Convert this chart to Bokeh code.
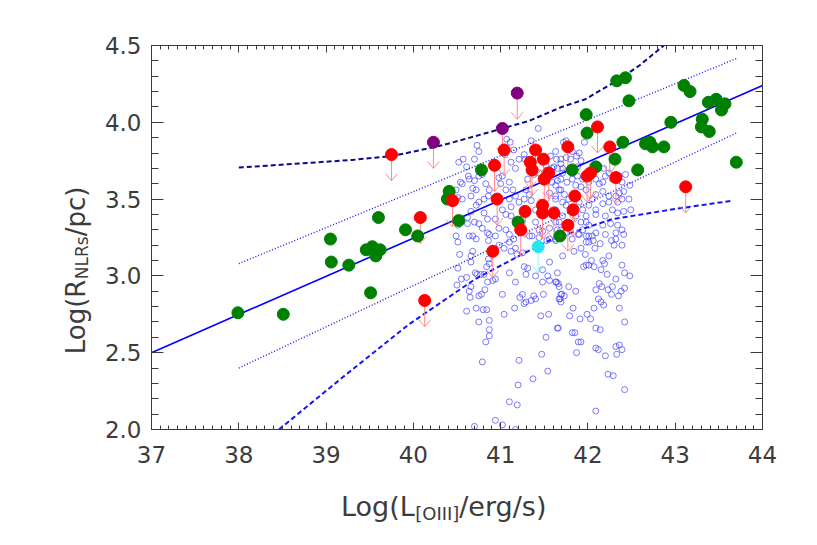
import math
from bokeh.plotting import figure
from bokeh.layouts import row, column
from bokeh.models import (Range1d, LinearAxis, SingleIntervalTicker,
                          PrintfTickFormatter)
from bokeh.core.properties import value
from bokeh.embed import file_html
from bokeh.resources import INLINE

# ---------------- data ----------------
# comparison sample (open blue circles)
blue_x = [
    40.51, 40.53, 40.68, 40.66, 40.66, 40.51, 40.71, 40.73, 40.77, 40.81,
    40.84, 40.87, 40.86, 40.94, 40.91, 40.85, 40.61, 40.55, 40.50, 40.66,
    40.64, 40.65, 40.75, 40.78, 40.82, 40.61, 40.72, 40.80, 40.84, 40.87,
    40.75, 41.02, 41.10, 41.17, 41.25, 41.22, 41.29, 40.98, 41.04, 41.10,
    41.17, 41.12, 41.19, 41.25, 41.27, 41.31, 41.29, 41.40, 41.48, 41.54,
    41.56, 41.63, 41.67, 41.69, 41.67, 41.49, 41.40, 41.38, 41.35, 40.86,
    40.87, 40.68, 41.15, 41.36, 41.44, 41.48, 41.56, 41.53, 41.63, 41.71,
    41.04, 41.16, 41.27, 41.46, 41.55, 41.66, 41.52, 41.47, 41.54, 41.37,
    41.21, 41.20, 41.10, 41.19, 40.94, 41.02, 40.70, 40.79, 40.87, 40.87,
    40.83, 41.17,
    41.65, 41.98, 42.05, 42.06, 42.14, 42.27, 42.32, 42.41, 42.39, 42.30,
    41.98, 42.01, 42.08, 41.92, 41.84, 41.97, 41.89, 42.17, 42.24, 42.19,
    42.04, 41.98, 41.95, 42.01, 42.07, 42.15, 42.39, 42.42, 42.48, 42.22,
    42.32, 41.65, 41.64, 41.66, 41.78, 41.86, 42.13, 42.16, 42.28, 42.23,
    42.27, 42.38, 42.42, 42.35, 41.70, 41.73, 41.68, 41.69, 42.12, 42.15,
    42.18, 42.09, 41.83, 42.07, 42.36, 41.79, 41.99, 42.03, 41.91, 42.42,
    42.09, 42.14, 41.65, 41.82, 41.85, 41.89, 41.92, 41.87, 42.09, 42.12,
    42.20, 42.32, 42.36, 42.39, 42.33, 42.23, 42.29, 42.42, 42.09,
    41.43, 41.35, 41.63, 41.28, 41.15, 41.07, 41.11, 41.05, 40.73, 40.75,
    40.70, 40.57, 40.52, 40.61, 40.63, 40.64, 40.70, 40.54, 40.56, 40.49,
    40.51, 40.56, 40.66, 40.68, 40.72, 40.75, 40.79, 40.83, 40.87, 40.86,
    40.81, 40.75, 40.72, 40.66, 40.62, 40.81, 40.85, 40.98, 41.02, 41.00,
    41.06, 41.10, 41.14, 41.17, 41.21, 41.27, 41.29, 41.33, 41.35, 41.40,
    41.10, 41.12, 41.02, 40.94, 41.06, 41.12, 41.17, 41.25, 41.06, 41.10,
    40.98, 40.94, 40.85, 40.79, 40.75, 40.70, 40.62, 40.51, 40.49, 40.64,
    40.72, 41.33, 41.40, 41.44, 41.56, 41.63, 41.69, 41.56, 41.48, 41.63,
    41.71, 41.63, 41.56, 41.69, 41.65, 41.59, 41.52, 41.44, 41.38, 41.31,
    41.71, 41.69, 41.57, 41.27, 41.21, 41.17, 41.12,
    41.72, 41.75, 41.64, 41.69, 41.75, 41.80, 41.87, 41.90, 41.96, 41.82,
    41.92, 41.88, 41.61, 41.65, 41.71, 41.59, 41.63, 41.69, 41.76, 41.82,
    41.88, 41.94, 41.98, 42.01, 42.09, 42.13, 42.17, 42.20, 42.18, 42.24,
    42.28, 42.36, 42.39, 42.43, 42.48, 42.41, 42.36, 42.32, 42.24, 42.17,
    42.09, 42.05, 41.98, 41.92, 41.86, 41.67, 41.73, 41.78, 41.63, 41.75,
    41.90, 41.94, 42.01, 42.09, 42.17, 42.24, 42.34, 42.39, 42.47, 42.49,
    42.41, 42.34, 42.28, 42.20, 42.09, 41.98, 41.92, 41.86, 41.71, 41.67,
    41.65, 41.75, 41.94, 42.01, 42.09, 42.17, 42.26, 42.34, 42.39, 42.32,
    42.20, 42.01, 41.98, 41.90, 41.82, 41.63,
]
blue_y = [
    3.22, 3.14, 3.16, 3.13, 3.09, 3.05, 3.02, 3.01, 3.01, 3.01,
    3.06, 3.08, 3.11, 2.98, 2.97, 2.96, 2.99, 2.98, 2.94, 2.93,
    2.90, 2.86, 2.87, 2.88, 2.91, 2.77, 2.79, 2.78, 2.78, 2.71,
    2.70, 2.88, 3.02, 2.96, 2.88, 2.86, 2.83, 3.20, 3.18, 3.22,
    3.18, 3.16, 3.14, 3.15, 3.06, 3.05, 3.01, 3.00, 2.96, 3.00,
    2.97, 2.96, 2.93, 2.88, 2.85, 2.88, 2.85, 2.87, 2.84, 3.23,
    3.27, 3.26, 3.24, 3.26, 3.25, 3.04, 3.09, 3.23, 3.23, 3.13,
    2.75, 2.79, 2.82, 2.74, 2.75, 2.66, 2.60, 2.49, 2.38, 2.33,
    2.45, 2.29, 2.18, 2.16, 2.06, 2.03, 2.02, 2.44, 2.65, 2.61,
    2.57, 2.00,
    3.26, 3.26, 3.26, 3.23, 3.21, 3.23, 3.24, 3.27, 3.20, 3.20,
    3.22, 3.22, 3.18, 3.18, 3.16, 3.14, 3.27, 3.10, 3.13, 3.08,
    3.10, 3.07, 3.06, 3.07, 3.06, 3.04, 3.07, 3.02, 3.00, 3.01,
    2.98, 3.02, 2.96, 2.95, 2.93, 2.90, 2.95, 2.93, 2.93, 2.91,
    2.88, 2.90, 2.92, 2.87, 2.88, 2.87, 2.85, 2.83, 2.85, 2.83,
    2.81, 2.91, 2.79, 2.79, 2.79, 2.74, 2.75, 2.72, 2.72, 2.70,
    2.66, 2.65, 2.66, 2.63, 2.63, 2.57, 2.57, 2.50, 2.53, 2.52,
    2.48, 2.54, 2.55, 2.52, 2.49, 2.36, 2.35, 2.26, 2.12,
    3.96, 3.88, 3.81, 3.76, 3.82, 3.89, 3.87, 3.79, 3.85, 3.81,
    3.76, 3.76, 3.74, 3.71, 3.65, 3.63, 3.62, 3.61, 3.60, 3.56,
    3.51, 3.50, 3.52, 3.57, 3.56, 3.65, 3.66, 3.60, 3.56, 3.52,
    3.50, 3.48, 3.46, 3.42, 3.38, 3.41, 3.37, 3.64, 3.65, 3.60,
    3.56, 3.61, 3.56, 3.52, 3.48, 3.50, 3.56, 3.53, 3.49, 3.43,
    3.50, 3.45, 3.43, 3.37, 3.40, 3.39, 3.35, 3.37, 3.30, 3.27,
    3.31, 3.26, 3.28, 3.31, 3.34, 3.35, 3.34, 3.33, 3.26, 3.26,
    3.24, 3.26, 3.35, 3.30, 3.31, 3.35, 3.30, 3.24, 3.29, 3.43,
    3.48, 3.52, 3.54, 3.56, 3.62, 3.70, 3.72, 3.67, 3.66, 3.63,
    3.67, 3.76, 3.78, 3.79, 3.76, 3.70, 3.74,
    3.87, 3.88, 3.76, 3.73, 3.77, 3.76, 3.78, 3.80, 3.87, 3.81,
    3.75, 3.71, 3.71, 3.70, 3.70, 3.61, 3.59, 3.63, 3.61, 3.63,
    3.65, 3.63, 3.65, 3.61, 3.63, 3.60, 3.61, 3.65, 3.70, 3.67,
    3.63, 3.65, 3.61, 3.66, 3.59, 3.55, 3.54, 3.52, 3.52, 3.55,
    3.53, 3.50, 3.56, 3.58, 3.59, 3.56, 3.53, 3.50, 3.50, 3.46,
    3.48, 3.43, 3.46, 3.43, 3.47, 3.48, 3.48, 3.50, 3.50, 3.43,
    3.42, 3.41, 3.43, 3.39, 3.40, 3.39, 3.35, 3.39, 3.39, 3.35,
    3.30, 3.28, 3.30, 3.33, 3.28, 3.33, 3.34, 3.33, 3.30, 3.28,
    3.27, 3.26, 3.35, 3.27, 3.24, 3.24,
]

# detections (filled green)
green_x = [37.99, 38.51, 39.05, 39.06, 39.26, 39.51, 39.46, 39.53, 39.62, 39.57,
           39.60, 39.91, 40.05, 40.41, 40.39, 40.52, 40.78, 41.20, 41.68, 41.82,
           42.09, 42.31, 42.40, 41.98, 41.99, 42.33, 42.43, 42.47, 42.57, 42.66,
           42.71, 42.74, 42.87, 42.95, 43.10, 43.17, 43.38, 43.47, 43.57, 43.53,
           43.31, 43.30, 43.39, 43.70]
green_y = [2.76, 2.75, 3.24, 3.09, 3.07, 2.89, 3.17, 3.19, 3.17, 3.13,
           3.38, 3.30, 3.26, 3.55, 3.50, 3.36, 3.69, 3.35, 3.26, 3.69,
           3.71, 3.76, 3.87, 4.05, 3.93, 4.27, 4.29, 4.14, 3.69, 3.86,
           3.87, 3.84, 3.84, 4.00, 4.24, 4.20, 4.13, 4.15, 4.12, 4.08,
           4.02, 3.97, 3.94, 3.74]

# upper limits (filled red, with arrows)
red_x = [39.75, 40.13, 40.08, 40.45, 40.93, 41.04, 40.96, 40.91, 41.40, 41.34,
         41.36, 41.49, 41.55, 41.50, 41.28, 41.48, 41.48, 41.61, 41.23, 41.77,
         42.11, 42.25, 42.03, 41.99, 42.32, 41.85, 41.83, 41.77, 43.12]
red_y = [3.79, 2.84, 3.38, 3.49, 3.72, 3.82, 3.50, 3.16, 3.82, 3.74,
         3.69, 3.76, 3.67, 3.63, 3.42, 3.46, 3.41, 3.41, 3.30, 3.84,
         3.97, 3.84, 3.67, 3.65, 3.64, 3.52, 3.43, 3.33, 3.58]

purple_x = [40.23, 41.02, 41.19]
purple_y = [3.87, 3.96, 4.19]

cyan_x = [41.43]
cyan_y = [3.19]

# relations
fit_x = [37.0, 44.0]
fit_y = [2.50, 4.24]
up_dot_x = [38.0, 43.7]
up_dot_y = [3.08, 4.415]
lo_dot_x = [38.0, 43.7]
lo_dot_y = [2.40, 3.93]
up_dash_x = [38.0, 39.30, 39.76, 40.33, 40.90, 41.33, 41.70, 41.97, 42.36, 42.59, 42.87]
up_dash_y = [3.705, 3.755, 3.78, 3.85, 3.94, 4.01, 4.10, 4.15, 4.28, 4.37, 4.50]
lo_dash_x = [38.46, 39.19, 39.95, 40.71, 41.21, 41.59, 42.28, 43.05, 43.66]
lo_dash_y = [2.00, 2.34, 2.685, 2.98, 3.13, 3.24, 3.37, 3.44, 3.49]

x_ticks_interval = 1
y_ticks_interval = 0.5

# axis titles: pieces (main text, subscript, rest)
x_title = ["Log(L", "[OIII]", "/erg/s)"]
y_title = ["Log(R", "NLRs", "/pc)"]

# ---------------- styles / layout ----------------
AX = "#3a3a3a"
TXT = "#3c3c3c"
FONT = "DejaVu Sans"
LEFT_STRIP_W = 100
BORDER_L, BORDER_R, BORDER_T, BORDER_B = 51, 38, 45, 55
MAIN_W, MAIN_H = 700, 484
XSTRIP_H = 44

x_rng = Range1d(37, 44)
y_rng = Range1d(2.0, 4.5)

# ---------------- main plot ----------------
p = figure(width=MAIN_W, height=MAIN_H,
           min_border_left=BORDER_L, min_border_right=BORDER_R,
           min_border_top=BORDER_T, min_border_bottom=BORDER_B,
           x_range=x_rng, y_range=y_rng,
           x_axis_location=None, y_axis_location=None,
           output_backend="svg", toolbar_location=None, align="start")
p.xgrid.visible = False
p.ygrid.visible = False
p.outline_line_color = AX


def make_axis(kind, show):
    if kind == "x":
        tk = SingleIntervalTicker(interval=x_ticks_interval, num_minor_ticks=10)
        ax = LinearAxis(ticker=tk, formatter=PrintfTickFormatter(format="%d"))
        ax.major_tick_in, ax.minor_tick_in = 7, 4
        ax.major_label_standoff = 16
    else:
        tk = SingleIntervalTicker(interval=y_ticks_interval, num_minor_ticks=5)
        ax = LinearAxis(ticker=tk, formatter=PrintfTickFormatter(format="%.1f"))
        ax.major_tick_in, ax.minor_tick_in = 12, 7
        ax.major_label_standoff = 10
    ax.major_tick_out = 0
    ax.minor_tick_out = 0
    ax.axis_line_color = AX
    ax.major_tick_line_color = AX
    ax.minor_tick_line_color = AX
    if show:
        ax.major_label_text_font = FONT
        ax.major_label_text_font_size = "23px"
        ax.major_label_text_color = TXT
    else:
        ax.major_label_text_color = None
        ax.major_label_standoff = 0
    return ax


p.add_layout(make_axis("x", True), "below")
p.add_layout(make_axis("x", False), "above")
p.add_layout(make_axis("y", True), "left")
p.add_layout(make_axis("y", False), "right")

# comparison sample
p.scatter(blue_x, blue_y, marker="circle", size=6, fill_color=None,
          line_color="#3d3dff", line_alpha=0.8, line_width=0.85)

# relations
p.line(up_dash_x, up_dash_y, line_color="#0a0a8c", line_width=2, line_dash="5 3")
p.line(lo_dash_x, lo_dash_y, line_color="#1414ff", line_width=2, line_dash="5 3")
p.line(up_dot_x, up_dot_y, line_color="#1f1fff", line_width=1.5, line_dash="1 2")
p.line(lo_dot_x, lo_dot_y, line_color="#1f1fff", line_width=1.5, line_dash="1 2")
p.line(fit_x, fit_y, line_color="#0000ff", line_width=1.6)

# upper-limit arrows
ARROW_LEN = 0.17
HEAD_W = 0.068
HEAD_H = 0.045


def draw_arrows(xs, ys, color):
    tip = [y - ARROW_LEN for y in ys]
    p.segment(x0=xs, y0=ys, x1=xs, y1=tip, line_color=color, line_width=1)
    p.segment(x0=[x - HEAD_W for x in xs], y0=[t + HEAD_H for t in tip],
              x1=xs, y1=tip, line_color=color, line_width=1)
    p.segment(x0=[x + HEAD_W for x in xs], y0=[t + HEAD_H for t in tip],
              x1=xs, y1=tip, line_color=color, line_width=1)


draw_arrows(red_x + purple_x, red_y + purple_y, "#ff8a8a")
draw_arrows(cyan_x, cyan_y, "#8ff0f5")

# filled points
MS = 12
p.scatter(green_x, green_y, marker="circle", size=MS, fill_color="#008000", line_color="#008000")
p.scatter(red_x, red_y, marker="circle", size=MS, fill_color="#ff0000", line_color="#ff0000")
p.scatter(purple_x, purple_y, marker="circle", size=MS, fill_color="#800080", line_color="#800080")
p.scatter(cyan_x, cyan_y, marker="circle", size=MS, fill_color="#22e6f2", line_color="#22e6f2")


# ---------------- axis-title strips (real text with subscripts) ----------------
def blank(fig):
    fig.xgrid.visible = False
    fig.ygrid.visible = False
    fig.outline_line_color = None
    return fig


# left strip: same vertical frame as the main plot, shares its y range
ys = blank(figure(width=LEFT_STRIP_W, height=MAIN_H,
                  min_border_left=0, min_border_right=0,
                  min_border_top=BORDER_T, min_border_bottom=BORDER_B,
                  x_range=Range1d(0, LEFT_STRIP_W), y_range=y_rng,
                  x_axis_location=None, y_axis_location=None,
                  output_backend="svg", toolbar_location=None, align="start"))
ys.text(x=[75, 75], y=[2.49, 3.258], text=[y_title[0], y_title[2]], angle=math.pi / 2,
        text_font=value(FONT), text_font_size=value("26px"), text_color=TXT,
        text_align="left", text_baseline="alphabetic")
ys.text(x=[81], y=[2.979], text=[y_title[1]], angle=math.pi / 2,
        text_font=value(FONT), text_font_size=value("17px"), text_color=TXT,
        text_align="left", text_baseline="alphabetic")

# bottom strip: same horizontal frame as the main plot, shares its x range
xs = blank(figure(width=LEFT_STRIP_W + MAIN_W, height=XSTRIP_H,
                  min_border_left=LEFT_STRIP_W + BORDER_L, min_border_right=BORDER_R,
                  min_border_top=0, min_border_bottom=0,
                  x_range=x_rng, y_range=Range1d(0, XSTRIP_H),
                  x_axis_location=None, y_axis_location=None,
                  output_backend="svg", toolbar_location=None, align="start"))
xs.text(x=[39.171, 40.526], y=[22, 22], text=[x_title[0], x_title[2]],
        text_font=value(FONT), text_font_size=value("27px"), text_color=TXT,
        text_align="left", text_baseline="alphabetic")
xs.text(x=[40.021], y=[15], text=[x_title[1]],
        text_font=value(FONT), text_font_size=value("18px"), text_color=TXT,
        text_align="left", text_baseline="alphabetic")

layout = column(row(ys, p, spacing=0, align="start"), xs, spacing=0, align="start")

open("out.html", "w").write(file_html(layout, INLINE))
